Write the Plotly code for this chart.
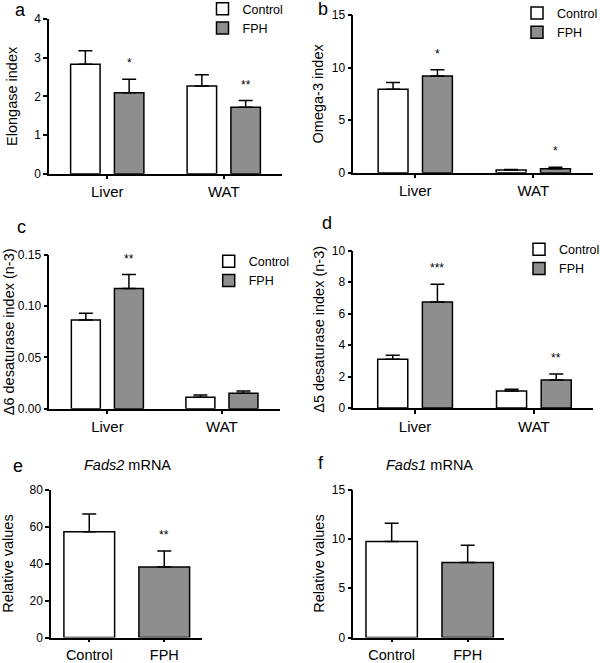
import plotly.graph_objects as go

# ---------------- data ----------------
tissues = ["Liver", "WAT"]
groups = ["Control", "FPH"]

elong_ctrl = [2.83, 2.27]
elong_ctrl_err = [0.35, 0.29]
elong_fph = [2.09, 1.72]
elong_fph_err = [0.35, 0.17]
elong_stars = ["*", "**"]

omega_ctrl = [7.93, 0.26]
omega_ctrl_err = [0.66, 0.04]
omega_fph = [9.19, 0.38]
omega_fph_err = [0.60, 0.13]
omega_stars = ["*", "*"]

d6_ctrl = [0.0866, 0.0111]
d6_ctrl_err = [0.0065, 0.0023]
d6_fph = [0.1172, 0.0150]
d6_fph_err = [0.0137, 0.0023]
d6_stars = ["**", ""]

d5_ctrl = [3.10, 1.08]
d5_ctrl_err = [0.25, 0.11]
d5_fph = [6.74, 1.78]
d5_fph_err = [1.12, 0.38]
d5_stars = ["***", "**"]

fads2_vals = [57.1, 38.1]
fads2_err = [9.6, 8.6]
fads2_stars = ["", "**"]

fads1_vals = [9.74, 7.60]
fads1_err = [1.83, 1.74]
fads1_stars = ["", ""]

# ---------------- style ----------------
FONT = "Liberation Sans, Arial, sans-serif"
WHITE = "#ffffff"
GREY = "#8e8e8e"
BAR_LINE = dict(color="black", width=1.5)
BARGAP = 0.248
BARGROUPGAP = 0.327
GROUP_OFFSET = (1 - BARGAP) / 4
W, H = 600, 663

fig = go.Figure()

def err(arr):
    return dict(type="data", array=arr, arrayminus=[0] * len(arr), symmetric=False,
                color="black", thickness=1.5, width=7)

grouped = [
    ("x", "y", "legend", elong_ctrl, elong_ctrl_err, elong_fph, elong_fph_err, elong_stars),
    ("x2", "y2", "legend2", omega_ctrl, omega_ctrl_err, omega_fph, omega_fph_err, omega_stars),
    ("x3", "y3", "legend3", d6_ctrl, d6_ctrl_err, d6_fph, d6_fph_err, d6_stars),
    ("x4", "y4", "legend4", d5_ctrl, d5_ctrl_err, d5_fph, d5_fph_err, d5_stars),
]

annotations = []
for xa, ya, lg, cv, ce, fv, fe, stars in grouped:
    fig.add_trace(go.Bar(x=tissues, y=cv, name="Control", marker=dict(color=WHITE, line=BAR_LINE),
                         error_y=err(ce), xaxis=xa, yaxis=ya, legend=lg))
    fig.add_trace(go.Bar(x=tissues, y=fv, name="FPH", marker=dict(color=GREY, line=BAR_LINE),
                         error_y=err(fe), xaxis=xa, yaxis=ya, legend=lg))
    for i, s in enumerate(stars):
        if s:
            annotations.append(dict(x=i + GROUP_OFFSET, y=fv[i] + fe[i], xref=xa, yref=ya,
                                    text=s, showarrow=False, yshift=16,
                                    font=dict(size=12, color="black", family=FONT)))

single = [
    ("x5", "y5", fads2_vals, fads2_err, fads2_stars),
    ("x6", "y6", fads1_vals, fads1_err, fads1_stars),
]
for xa, ya, v, e, stars in single:
    fig.add_trace(go.Bar(x=groups, y=v, marker=dict(color=[WHITE, GREY], line=BAR_LINE),
                         error_y=err(e), xaxis=xa, yaxis=ya, width=0.676, showlegend=False))
    for i, s in enumerate(stars):
        if s:
            annotations.append(dict(x=i, y=v[i] + e[i], xref=xa, yref=ya,
                                    text=s, showarrow=False, yshift=16,
                                    font=dict(size=12, color="black", family=FONT)))

def px_x(a, b):
    return [a / W, b / W]

def px_y(top, bottom):
    return [1 - bottom / H, 1 - top / H]

axis_common = dict(showline=True, linecolor="black", linewidth=1.5, ticks="outside",
                   ticklen=4, tickwidth=1.5, tickcolor="black", showgrid=False,
                   zeroline=False, fixedrange=True)

def xax(dom, rng, ticklen=4, fsize=15):
    return dict(axis_common, type="category", domain=dom, range=rng, ticklen=ticklen,
                tickfont=dict(size=fsize, color="black", family=FONT))

def yax(dom, rng, dtick, title, standoff, fmt=None, anchor="x"):
    d = dict(axis_common, domain=dom, range=rng, dtick=dtick, tick0=0,
             tickfont=dict(size=12, color="black", family=FONT),
             title=dict(text=title, standoff=standoff, font=dict(size=14.5, color="black", family=FONT)),
             anchor=anchor)
    if fmt:
        d["tickformat"] = fmt
    return d

layout = dict(
    width=W, height=H, margin=dict(l=0, r=0, t=0, b=0, autoexpand=False),
    paper_bgcolor="white", plot_bgcolor="white",
    barmode="group", bargap=BARGAP, bargroupgap=BARGROUPGAP,
    font=dict(family=FONT, color="black"),
    xaxis=dict(xax(px_x(49, 282), [-0.5, 1.5]), anchor="y"),
    yaxis=yax(px_y(19, 173.7), [0, 4], 1, "Elongase index", 13, anchor="x"),
    xaxis2=dict(xax(px_x(353.3, 593), [-0.525, 1.506]), anchor="y2"),
    yaxis2=yax(px_y(15, 172.7), [0, 15], 5, "Omega-3 index", 5, anchor="x2"),
    xaxis3=dict(xax(px_x(49.3, 280), [-0.507, 1.507]), anchor="y3"),
    yaxis3=yax(px_y(255, 408.7), [0, 0.15], 0.05, "Δ6 desaturase index (n-3)", 0, fmt=".2f", anchor="x3"),
    xaxis4=dict(xax(px_x(353.3, 593.3), [-0.52, 1.5]), anchor="y4"),
    yaxis4=yax(px_y(250.7, 408), [0, 10], 2, "Δ5 desaturase index (n-3)", 4, anchor="x4"),
    xaxis5=dict(xax(px_x(51, 202.3), [-0.51, 1.507], ticklen=3, fsize=14.5), anchor="y5"),
    yaxis5=yax(px_y(489.5, 637.5), [0, 80], 20, "Relative values", 12, anchor="x5"),
    xaxis6=dict(xax(px_x(353.3, 504), [-0.505, 1.478], ticklen=3, fsize=14.5), anchor="y6"),
    yaxis6=yax(px_y(489.5, 637.5), [0, 15], 5, "Relative values", 4, anchor="x6"),
)

def legend_at(left_px, top_px):
    return dict(x=left_px / W, y=1 - top_px / H, xanchor="left", yanchor="top",
                bgcolor="rgba(0,0,0,0)", borderwidth=0, tracegroupgap=0,
                font=dict(size=12.5, color="black", family=FONT))

layout["legend"] = legend_at(202.5, -6)
layout["legend2"] = legend_at(517, -1.7)
layout["legend3"] = legend_at(208.7, 246.7)
layout["legend4"] = legend_at(519, 234.7)

panel_letters = [("a", 20, 10), ("b", 323, 9), ("c", 21, 227), ("d", 327, 223), ("e", 18, 466), ("f", 321, 463)]
for t, xp, yp in panel_letters:
    annotations.append(dict(x=xp / W, y=1 - yp / H, xref="paper", yref="paper", text=t,
                            showarrow=False, xanchor="center", yanchor="middle",
                            font=dict(size=18, color="black", family=FONT)))

annotations.append(dict(x=127.7 / W, y=1 - 465.5 / H, xref="paper", yref="paper",
                        text="<i>Fads2</i> mRNA", showarrow=False, xanchor="center", yanchor="middle",
                        font=dict(size=14.5, color="black", family=FONT)))
annotations.append(dict(x=429.3 / W, y=1 - 465.5 / H, xref="paper", yref="paper",
                        text="<i>Fads1</i> mRNA", showarrow=False, xanchor="center", yanchor="middle",
                        font=dict(size=14.5, color="black", family=FONT)))

layout["annotations"] = annotations
fig.update_layout(**layout)
fig.write_html("out.html", config={"displayModeBar": False},
               post_script="document.body.style.margin='0px';")
